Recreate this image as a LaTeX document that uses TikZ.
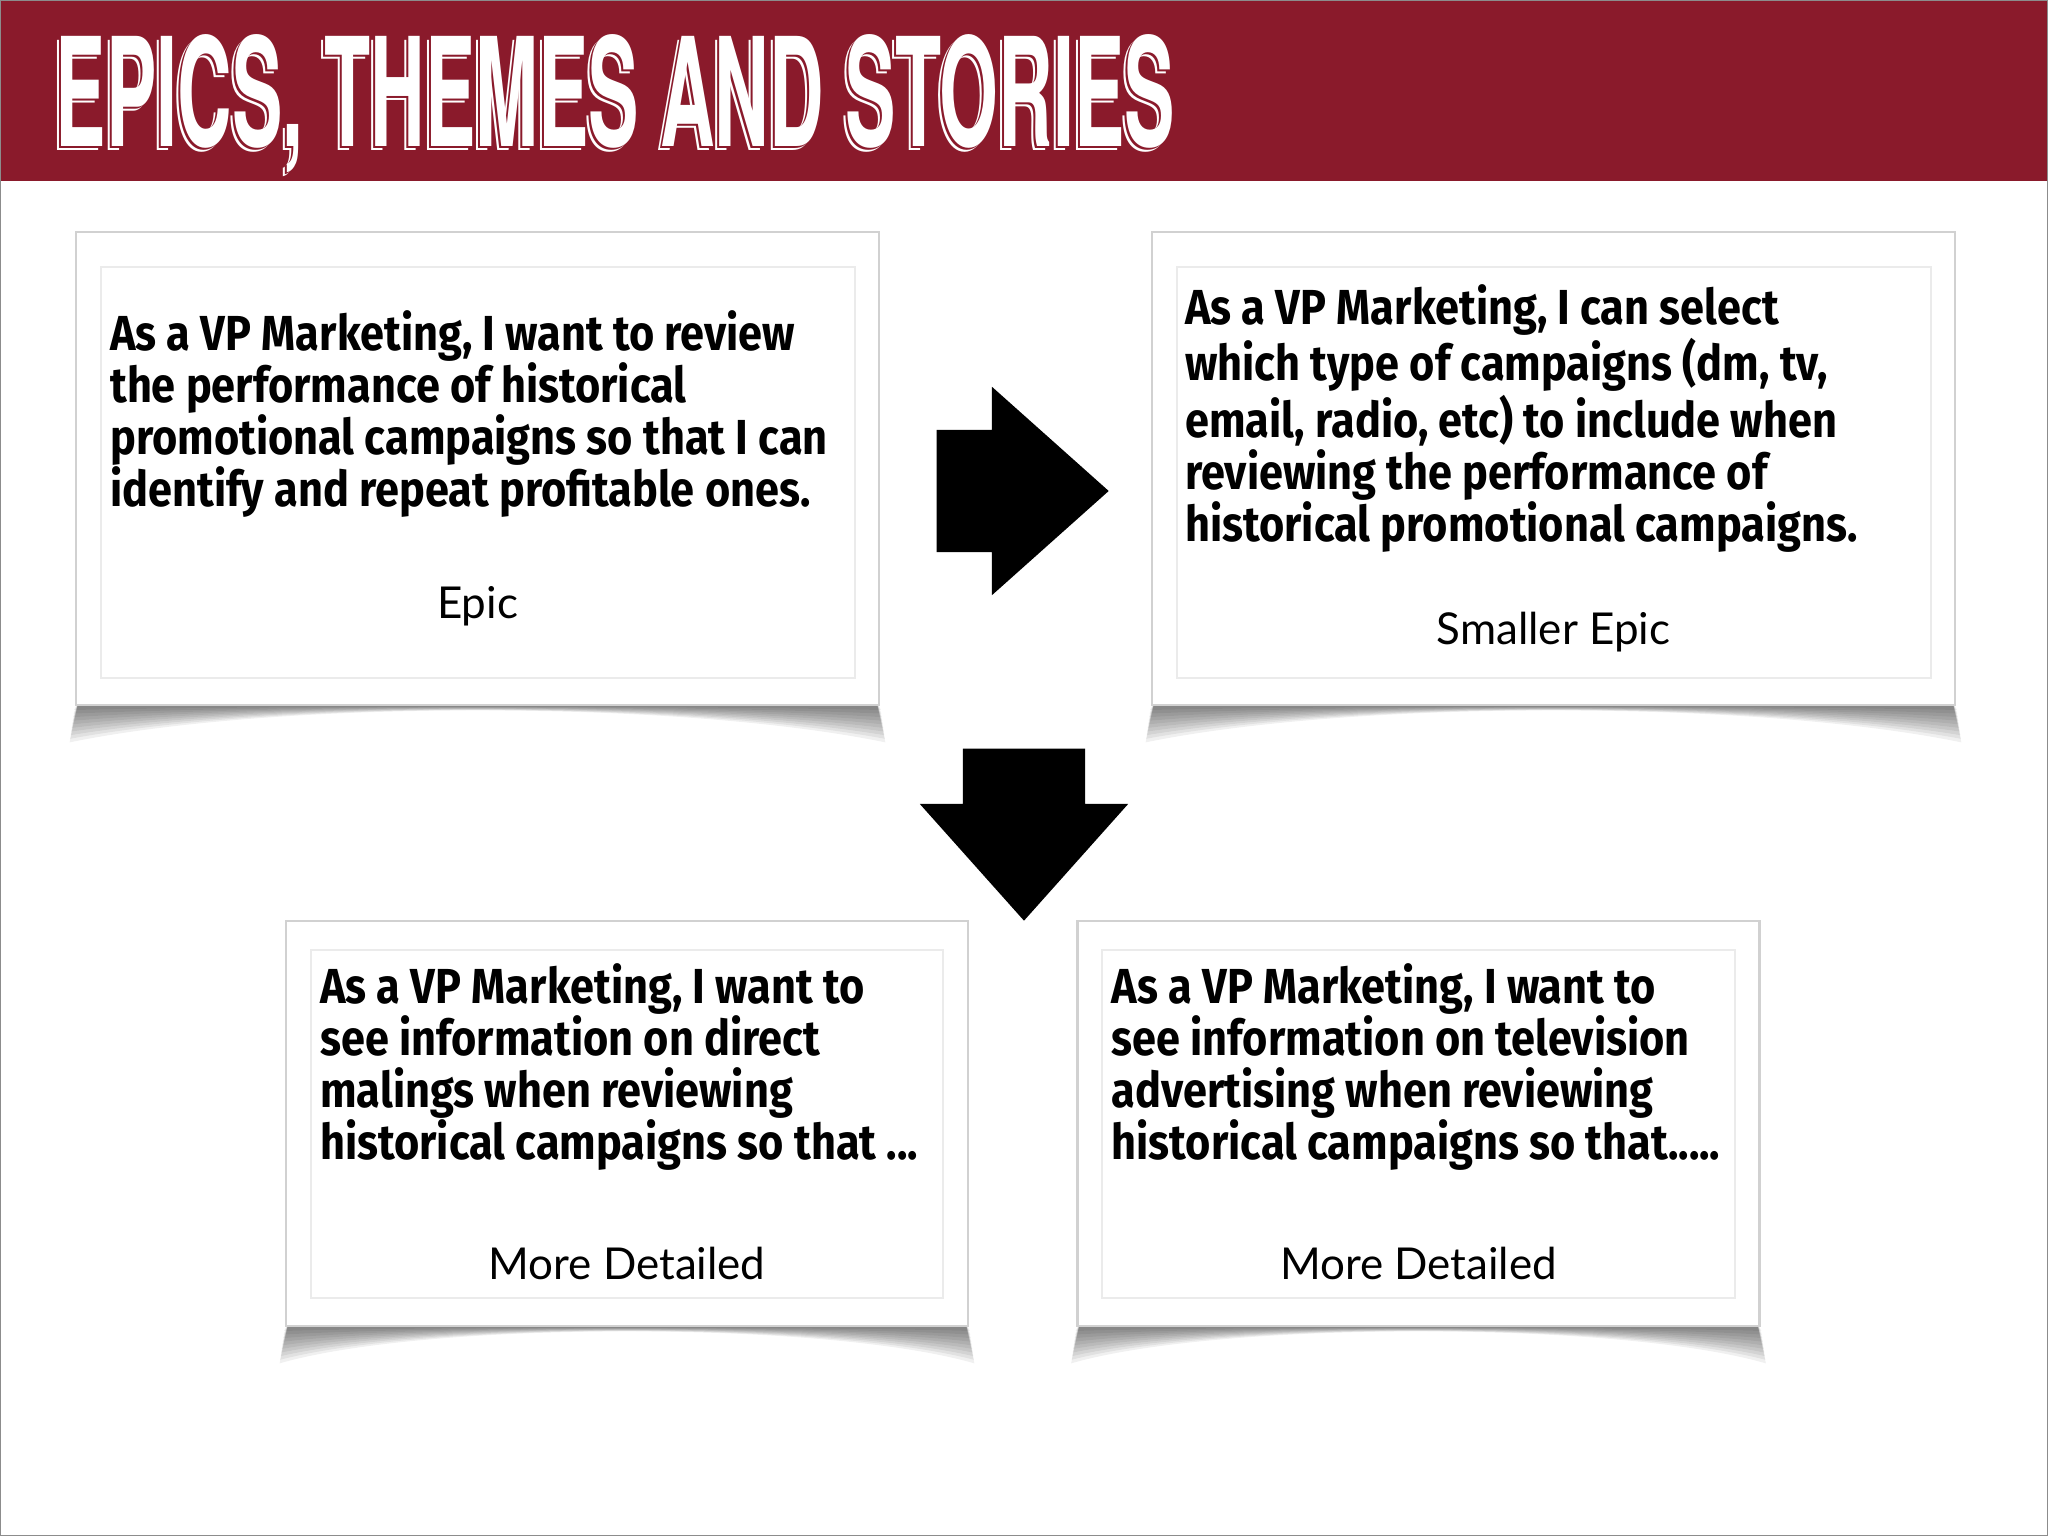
\documentclass[tikz,border=0pt]{standalone}
\usepackage{fontspec}
\setmainfont{Lato}
\newfontfamily\titlefont[FakeStretch=0.5]{TeX Gyre Heros}
\newfontfamily\storyfont[FakeStretch=0.88]{Fira Sans}
\usetikzlibrary{shapes.arrows,positioning,calc,backgrounds}
\definecolor{slidered}{RGB}{138,26,43}

% curled shadow under a card, built from soft layers
\newcommand{\curlshadow}[1]{%
  \foreach \k in {1,...,10}{
    \fill[black, opacity=0.06]
      ($(#1.south west)+(0.04,0.05)$) -- ($(#1.south west)+(-0.005*\k,-0.036*\k)$)
      .. controls ($(#1.south)+(-2,0.00667*\k)$) and ($(#1.south)+(2,0.00667*\k)$) .. ($(#1.south east)+(0.005*\k,-0.036*\k)$)
      -- ($(#1.south east)+(-0.04,0.05)$) -- cycle;
  }}

\begin{document}
\begin{tikzpicture}[
    cardbox/.style={rectangle, draw=black!18, line width=0.8pt, fill=white, inner sep=0},
    innerframe/.style={draw=black!8, line width=0.6pt},
    story/.style={font=\storyfont\bfseries\fontsize{14}{14.8}\selectfont, align=left, anchor=north west, inner sep=0},
    tag/.style={font=\fontsize{12.5}{14}\selectfont},
    blockarrow/.style={single arrow, fill=black, single arrow head indent=0pt,
      minimum height=1.72cm, minimum width=2.07cm,
      single arrow head extend=0.43cm, single arrow tip angle=83.5}
]
\useasboundingbox (0,0) rectangle (20.48,15.36);

% Title bar
\node[fill=slidered, minimum width=20.48cm, minimum height=1.8cm, anchor=north west, inner sep=0] (bar) at (0,15.36) {};
\node[font=\titlefont\bfseries\fontsize{43}{43}\selectfont, white, anchor=base west, inner sep=0] at (0.51,13.85) {EPICS, THEMES AND STORIES};
\node[font=\titlefont\bfseries\fontsize{43}{43}\selectfont, slidered, anchor=base west, inner sep=0] at (0.53,13.87) {EPICS, THEMES AND STORIES};
\node[font=\titlefont\bfseries\fontsize{43}{43}\selectfont, white, anchor=base west, inner sep=0] (title) at (0.55,13.89) {EPICS, THEMES AND STORIES};

% Cards
\node[cardbox, minimum width=8.03cm, minimum height=4.73cm] (epic) at (4.775,10.675) {};
\node[cardbox, minimum width=8.03cm, minimum height=4.73cm] (smallepic) at (15.535,10.675) {};
\node[cardbox, minimum width=6.82cm, minimum height=4.05cm] (dmail) at (6.27,4.125) {};
\node[cardbox, minimum width=6.82cm, minimum height=4.05cm] (tvad) at (14.185,4.125) {};

\begin{scope}[on background layer]
  \fill[white] (0,0) rectangle (20.48,15.36);
  \foreach \c in {epic,smallepic,dmail,tvad}{\curlshadow{\c}}
\end{scope}
\draw[black!45] (0,0) rectangle (20.48,15.36);

\foreach \c in {epic,smallepic}{
  \draw[innerframe] ($(\c.north west)+(0.26,-0.36)$) rectangle ($(\c.south east)+(-0.25,0.28)$);
}
\foreach \c in {dmail,tvad}{
  \draw[innerframe] ($(\c.north west)+(0.26,-0.30)$) rectangle ($(\c.south east)+(-0.26,0.29)$);
}

% Story texts
\node[story] (epictxt) at ($(epic.north west)+(0.35,-0.79)$)
  {As a VP Marketing, I want to review\\the performance of historical\\promotional campaigns so that I can\\identify and repeat profitable ones.};
\node[story] (smalltxt) at ($(smallepic.north west)+(0.34,-0.53)$)
  {As a VP Marketing, I can select\\which type of campaigns (dm, tv,\\email, radio, etc) to include when\\reviewing the performance of\\historical promotional campaigns.};
\node[story] (dmailtxt) at ($(dmail.north west)+(0.35,-0.43)$)
  {As a VP Marketing, I want to\\see information on direct\\malings when reviewing\\historical campaigns so that ...};
\node[story] (tvadtxt) at ($(tvad.north west)+(0.35,-0.43)$)
  {As a VP Marketing, I want to\\see information on television\\advertising when reviewing\\historical campaigns so that.....};

% Level tags
\node[tag] (epictag) at ($(epic.south)+(0,1.00)$) {Epic};
\node[tag] (smalltag) at ($(smallepic.south)+(0,0.74)$) {Smaller Epic};
\node[tag] (dmailtag) at ($(dmail.south)+(0,0.64)$) {More Detailed};
\node[tag] (tvadtag) at ($(tvad.south)+(0,0.64)$) {More Detailed};

% Block arrows
\node[blockarrow, inner xsep=0, inner ysep=0.605cm, anchor=tail] (toright) at (9.36,10.45) {};
\node[blockarrow, inner xsep=0.605cm, inner ysep=0, shape border rotate=270, anchor=tail] (todown) at (10.24,7.88) {};

\end{tikzpicture}
\end{document}
